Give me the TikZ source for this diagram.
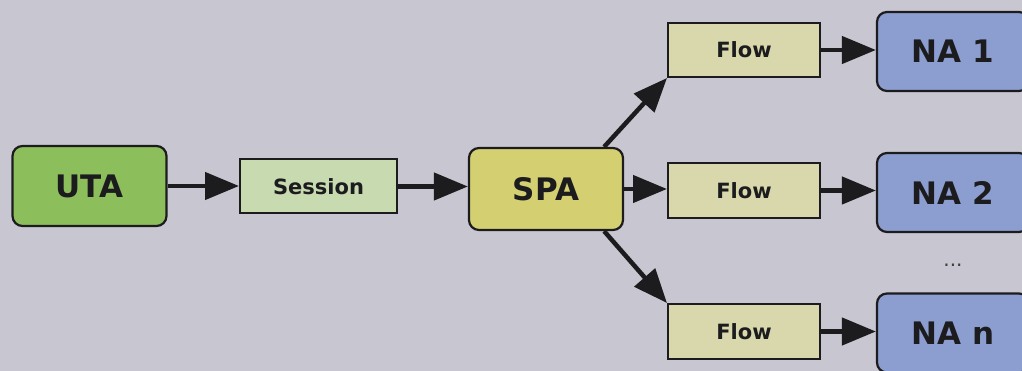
\documentclass[tikz,border=0pt]{standalone}
\usepackage{fontspec}
\setmainfont{DejaVu Sans}
\usetikzlibrary{arrows.meta}

\definecolor{bgcol}{RGB}{200,198,208}
\definecolor{utacol}{RGB}{141,190,92}
\definecolor{sesscol}{RGB}{200,218,176}
\definecolor{spacol}{RGB}{212,208,114}
\definecolor{flowcol}{RGB}{216,216,172}
\definecolor{nacol}{RGB}{140,158,208}
\definecolor{inkcol}{RGB}{28,28,30}

\tikzset{
  agent/.style={draw=inkcol, line width=2.2pt, rounded corners=10pt,
    minimum width=154pt, minimum height=80pt, inner sep=0pt,
    font=\fontsize{31}{31}\bfseries, text=inkcol},
  stage/.style={draw=inkcol, line width=2pt,
    minimum width=154pt, minimum height=54pt, inner sep=0pt,
    font=\fontsize{21}{21}\bfseries, text=inkcol},
  link/.style={draw=inkcol, line width=4.5pt,
    -{Triangle[length=34pt,width=27pt]}}
}

\begin{document}
\begin{tikzpicture}[x=1pt, y=-1pt]
  \fill[bgcol] (0,0) rectangle (1022,371);
  \useasboundingbox (0,0) rectangle (1022,371);
  \clip (0,0) rectangle (1022,371);

  % agents and pipeline stages
  \node[agent, fill=utacol] (uta) at (89.5,186) {UTA};
  \node[stage, fill=sesscol, minimum width=157pt] (sess) at (318.5,186.5) {Session};
  \node[agent, fill=spacol, minimum height=82pt] (spa) at (546,189) {SPA};

  \node[stage, fill=flowcol, minimum width=152pt] (flow1) at (744,50) {Flow};
  \node[stage, fill=flowcol, minimum width=152pt, minimum height=55pt] (flow2) at (744,190.5) {Flow};
  \node[stage, fill=flowcol, minimum width=152pt, minimum height=55pt] (flow3) at (744,331.5) {Flow};

  \node[agent, fill=nacol, minimum width=152pt, minimum height=79pt] (na1) at (953,51.5) {NA 1};
  \node[agent, fill=nacol, minimum width=152pt, minimum height=79pt] (na2) at (953,192.5) {NA 2};
  \node[agent, fill=nacol, minimum width=152pt, minimum height=79pt] (nan) at (953,333) {NA n};

  \node[text=inkcol!85, font=\fontsize{20}{20}\selectfont] (dots) at (953,265) {...};

  % connectors (horizontal ones run at the height of their source)
  \draw[link] (uta.east) -- (uta.east -| sess.west);
  \draw[link] (sess.east) -- (sess.east -| spa.west);
  \draw[link] (spa.east) -- (spa.east -| flow2.west);
  \draw[link] ([xshift=-20pt]spa.north east) -- (flow1.south west);
  \draw[link] ([xshift=-20pt]spa.south east) -- (flow3.north west);
  \draw[link] (flow1.east) -- (flow1.east -| na1.west);
  \draw[link] (flow2.east) -- (flow2.east -| na2.west);
  \draw[link] (flow3.east) -- (flow3.east -| nan.west);
\end{tikzpicture}
\end{document}
